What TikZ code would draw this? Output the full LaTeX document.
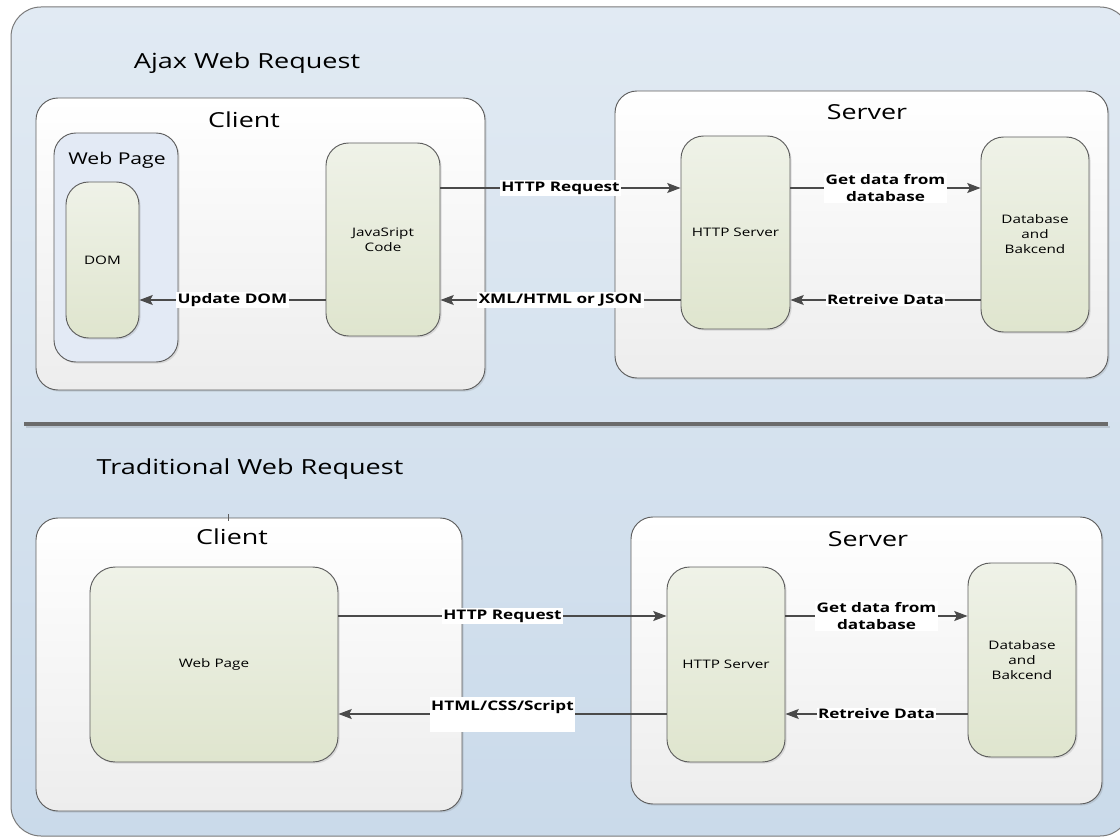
\documentclass[tikz,border=0pt]{standalone}
\usepackage{fontspec}
\setmainfont[FakeStretch=1.3]{Open Sans}
\usetikzlibrary{arrows.meta,calc,shadows}
\definecolor{bgtop}{HTML}{E1EAF3}
\definecolor{bgbot}{HTML}{CADAEA}
\definecolor{bord}{HTML}{5E5E5E}
\definecolor{obord}{HTML}{7A7A7A}
\definecolor{cbot}{HTML}{EDEDED}
\definecolor{ntop}{HTML}{EFF2E8}
\definecolor{nbot}{HTML}{DFE5CE}
\definecolor{wpfill}{HTML}{E3EAF5}
\definecolor{arrc}{HTML}{4A4A4A}
\definecolor{sepc}{HTML}{6B6B6B}
\begin{document}
\begin{tikzpicture}[x=0.75pt,y=-0.75pt,
  sz/.style 2 args={minimum width=#1*0.75pt, minimum height=#2*0.75pt},
  softshadow/.style={drop shadow={shadow xshift=1.2pt, shadow yshift=-1.2pt, opacity=0.18, fill=black!60}},
  outerbox/.style={draw=obord, line width=0.75pt, rounded corners=22.5pt, top color=bgtop, bottom color=bgbot, inner sep=0pt},
  container/.style={draw=bord, line width=0.7pt, rounded corners=16.5pt, top color=white, bottom color=cbot, inner sep=0pt, softshadow},
  wpbox/.style={draw=bord, line width=0.7pt, rounded corners=16.5pt, fill=wpfill, inner sep=0pt, softshadow},
  unit/.style={draw=bord, line width=0.7pt, rounded corners=17pt, top color=ntop, bottom color=nbot, inner sep=0pt, font=\fontsize{8.8}{11.3}\selectfont, align=center, softshadow},
  title/.style={font=\fontsize{15.6}{18}\selectfont, inner sep=0pt},
  hdr/.style={font=\fontsize{15.5}{18}\selectfont, inner sep=0pt},
  subhdr/.style={font=\fontsize{12.2}{14}\selectfont, inner sep=0pt},
  arrow/.style={draw=arrc, line width=1pt, -{Stealth[length=10pt,width=7.5pt,inset=2pt]}},
  lab/.style={fill=white, inner sep=1pt, font=\bfseries\fontsize{9.9}{12.75}\selectfont, align=center},
  sepline/.style={draw=sepc, line width=3pt},
  sepshadow/.style={draw=black, opacity=0.12, line width=2pt}
]
\useasboundingbox (0,0) rectangle (1120,837);
\begin{scope}
  \clip (0,0) rectangle (1120,837);
  \node[outerbox, sz={1119}{829}] (bg) at (570.5,421.5) {};
\end{scope}
\draw[sepshadow] (26,427) -- (1110,427);
\draw[sepline] (24,424) -- (1108,424);

% ---------- Ajax ----------
\node[title] (tA) at (247,63) {Ajax Web Request};
\node[container, sz={449}{292}] (clientA) at (260.5,244) {};
\node[hdr] (clientAt) at (244,120) {Client};
\node[wpbox, sz={124}{229}] (wpA) at (116,247.5) {};
\node[subhdr] (wpAt) at (117,160) {Web Page};
\node[unit, sz={73}{156}] (dom) at (102.5,260) {DOM};
\node[unit, sz={114}{193}] (js) at (383,239.5) {JavaSript\\Code};

\node[container, sz={493}{287}] (serverA) at (861.5,234.5) {};
\node[hdr] (serverAt) at (867,112) {Server};
\node[unit, sz={109}{193}] (hsA) at (735.5,232.5) {HTTP Server};
\node[unit, sz={108}{195}] (dbA) at (1035,234.5) {Database\\and\\Bakcend};

\coordinate (r1) at (0,188);
\coordinate (r2) at (0,300);
\draw[arrow] (js.east |- r1) -- node[lab]{HTTP Request} (hsA.west |- r1);
\draw[arrow] (hsA.east |- r1) -- node[lab]{Get data from\\database} (dbA.west |- r1);
\draw[arrow] (dbA.west |- r2) -- node[lab]{Retreive Data} (hsA.east |- r2);
\draw[arrow] (hsA.west |- r2) -- node[lab]{XML/HTML or JSON} (js.east |- r2);
\draw[arrow] (js.west |- r2) -- node[lab]{Update DOM} (dom.east |- r2);

% ---------- Traditional ----------
\node[title] (tB) at (250,469) {Traditional Web Request};
\node[container, sz={426}{293}] (clientB) at (249,664.5) {};
\draw[draw=bord, line width=0.6pt] (228,514) -- (228,521);
\node[hdr] (clientBt) at (232,537) {Client};
\node[unit, rounded corners=19pt, sz={248}{195}] (wpB) at (214,664.5) {Web Page};

\node[container, sz={471}{287}] (serverB) at (866.5,660.5) {};
\node[hdr] (serverBt) at (868,539) {Server};
\node[unit, sz={118}{195}] (hsB) at (726,664.5) {HTTP Server};
\node[unit, sz={108}{194}] (dbB) at (1022,660) {Database\\and\\Bakcend};

\coordinate (r3) at (0,616);
\coordinate (r4) at (0,714);
\draw[arrow] (wpB.east |- r3) -- node[lab]{HTTP Request} (hsB.west |- r3);
\draw[arrow] (hsB.east |- r3) -- node[lab]{Get data from\\database} (dbB.west |- r3);
\draw[arrow] (dbB.west |- r4) -- node[lab]{Retreive Data} (hsB.east |- r4);
\draw[arrow] (hsB.west |- r4) -- node[lab, text height=9.5pt, text depth=14.75pt]{HTML/CSS/Script} (wpB.east |- r4);
\end{tikzpicture}
\end{document}
